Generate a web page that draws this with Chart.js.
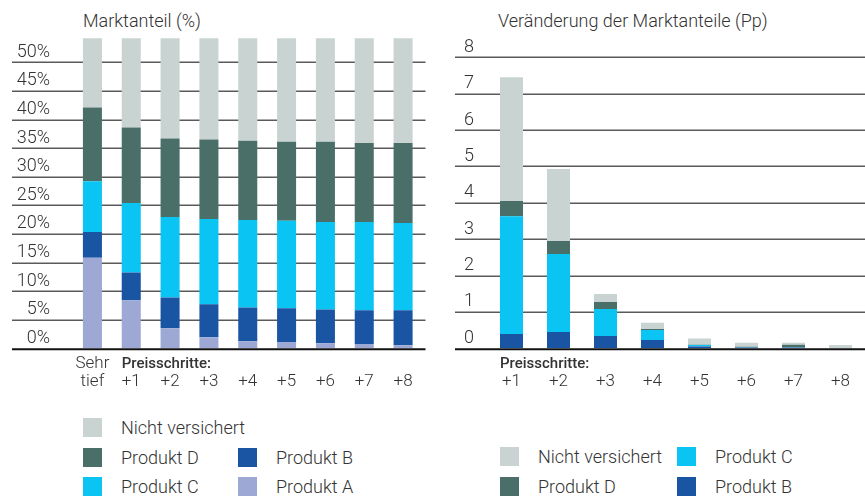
<!DOCTYPE html>
<html>
<head>
<meta charset="utf-8">
<script src="https://cdn.jsdelivr.net/npm/chart.js@4/dist/chart.umd.min.js"></script>
<style>
  body { margin: 0; background: #fff; width: 865px; height: 498px; position: relative; overflow: hidden;
         font-family: Roboto, "Liberation Sans", sans-serif; color: #333; }
  canvas { position: absolute; top: 0; }
  #left { left: 0; }
  #right { left: 440px; }
  .title { position: absolute; top: 11px; font-size: 18px; line-height: 20px; font-weight: 300; }
  .leg { position: absolute; font-size: 18px; line-height: 19px; font-weight: 300; white-space: nowrap; }
  .leg i { position: absolute; left: 0; top: 0; width: 19px; height: 19px; }
  .leg span { position: absolute; left: 38px; top: 0; }
</style>
</head>
<body>
<div class="title" style="left:83px">Marktanteil (%)</div>
<div class="title" style="left:498px">Veränderung der Marktanteile (Pp)</div>
<canvas id="left" width="440" height="400"></canvas>
<canvas id="right" width="425" height="400"></canvas>
<div id="legends"></div>
<script>
const FONT = 'Roboto, "Liberation Sans", sans-serif'
const TEXT = '#333'

// series names and colours
const NAMES = { n: 'Nicht versichert', d: 'Produkt D', c: 'Produkt C', b: 'Produkt B', a: 'Produkt A' }
const COLORS = { n: '#c9d4d2', d: '#4a6f68', c: '#0ac4f3', b: '#1a55a4', a: '#9da8d5' }

// left chart: market share (%)
const leftLabels = [['Sehr', 'tief'], ['', '+1'], ['', '+2'], ['', '+3'], ['', '+4'], ['', '+5'], ['', '+6'], ['', '+7'], ['', '+8']]
const leftTicks = [0, 5, 10, 15, 20, 25, 30, 35, 40, 45, 50]
const shareA = [15.85, 8.4, 3.5, 1.95, 1.25, 1.1, 0.9, 0.75, 0.55]
const shareB = [4.5, 4.85, 5.4, 5.75, 5.9, 5.9, 5.9, 5.9, 6.1]
const shareC = [8.85, 12.15, 14.05, 14.9, 15.3, 15.3, 15.3, 15.45, 15.25]
const shareD = [12.9, 13.2, 13.75, 13.9, 13.85, 13.8, 14.0, 13.8, 14.0]
const shareN = [12.1, 15.6, 17.5, 17.7, 17.9, 18.1, 18.1, 18.3, 18.3]

// right chart: change of market shares (Pp)
const rightLabels = [['', '+1'], ['', '+2'], ['', '+3'], ['', '+4'], ['', '+5'], ['', '+6'], ['', '+7'], ['', '+8']]
const rightTicks = [0, 1, 2, 3, 4, 5, 6, 7, 8]
const deltaB = [0.39, 0.45, 0.34, 0.23, 0.05, 0.02, 0.02, 0.01]
const deltaC = [3.24, 2.14, 0.74, 0.27, 0.04, 0.01, 0.01, 0]
const deltaD = [0.42, 0.36, 0.19, 0.03, 0.01, 0.01, 0.07, 0]
const deltaN = [3.40, 1.98, 0.22, 0.17, 0.17, 0.11, 0.05, 0.08]

const STEP_CAPTION = 'Preisschritte:'

// horizontal grid lines that run under the tick labels, plus a black baseline
const gridPlugin = {
  id: 'gridLines',
  beforeDatasetsDraw(chart, args, opts) {
    const { ctx, chartArea, scales: { y } } = chart
    ctx.save()
    ctx.strokeStyle = '#5a5a5a'
    ctx.lineWidth = 1.5
    y.ticks.forEach(t => {
      if (t.value === 0) return
      const py = Math.round(y.getPixelForValue(t.value)) + 0.25
      ctx.beginPath()
      ctx.moveTo(y.left, py)
      ctx.lineTo(chartArea.right + opts.extend, py)
      ctx.stroke()
    })
    ctx.restore()
  },
  afterDatasetsDraw(chart, args, opts) {
    const { ctx, chartArea, scales: { y } } = chart
    const py = y.getPixelForValue(0) + 1
    ctx.save()
    ctx.strokeStyle = '#111'
    ctx.lineWidth = 2
    ctx.beginPath()
    ctx.moveTo(y.left, py)
    ctx.lineTo(chartArea.right + opts.extend, py)
    ctx.stroke()
    ctx.restore()
  }
}

// "Preisschritte:" caption, left aligned to the first price-step bar
const captionPlugin = {
  id: 'caption',
  afterDraw(chart, args, opts) {
    const { ctx, chartArea } = chart
    const bar = chart.getDatasetMeta(0).data[opts.index]
    ctx.save()
    ctx.font = '500 15px ' + FONT
    ctx.fillStyle = TEXT
    ctx.textBaseline = 'middle'
    ctx.textAlign = 'left'
    ctx.fillText(STEP_CAPTION, bar.x - bar.width / 2, chartArea.bottom + 16)
    ctx.restore()
  }
}

function dataset(key, values) {
  return {
    label: NAMES[key],
    data: values,
    backgroundColor: COLORS[key],
    borderWidth: 0,
    barPercentage: 0.49,
    categoryPercentage: 1
  }
}

function makeChart(el, cfg) {
  return new Chart(document.getElementById(el), {
    type: 'bar',
    data: { labels: cfg.labels, datasets: cfg.datasets },
    options: {
      responsive: false,
      animation: false,
      events: [],
      layout: { padding: cfg.padding },
      plugins: {
        legend: { display: false },
        tooltip: { enabled: false },
        gridLines: { extend: cfg.extend },
        caption: { index: cfg.captionIndex }
      },
      scales: {
        x: {
          stacked: true,
          grid: { display: false, drawTicks: false },
          border: { display: false },
          ticks: {
            color: TEXT, padding: 7, maxRotation: 0, autoSkip: false,
            font: { family: FONT, size: 17, weight: 300, lineHeight: 1.05 }
          },
          afterFit(s) { s.height = 51.7 }
        },
        y: {
          stacked: true,
          min: 0,
          max: cfg.max,
          grid: { display: false, drawTicks: false },
          border: { display: false },
          afterBuildTicks(s) { s.ticks = cfg.ticks.map(v => ({ value: v })) },
          afterFit(s) { s.width = cfg.axisWidth },
          ticks: {
            color: TEXT, padding: cfg.tickPad, labelOffset: -10,
            font: { family: FONT, size: 18, weight: 300 },
            callback: cfg.tickFmt
          }
        }
      }
    },
    plugins: [gridPlugin, captionPlugin]
  })
}

makeChart('left', {
  labels: leftLabels,
  datasets: [dataset('a', shareA), dataset('b', shareB), dataset('c', shareC), dataset('d', shareD), dataset('n', shareN)],
  padding: { left: 12, right: 17.5, top: 31.5, bottom: 0 },
  extend: 3,
  max: 55,
  ticks: leftTicks,
  axisWidth: 61,
  tickPad: 23,
  tickFmt: v => v + '%',
  captionIndex: 1
})

makeChart('right', {
  labels: rightLabels,
  datasets: [dataset('b', deltaB), dataset('c', deltaC), dataset('d', deltaD), dataset('n', deltaN)],
  padding: { left: 15, right: 1, top: 57.3, bottom: 0 },
  extend: 1,
  max: 8,
  ticks: rightTicks,
  axisWidth: 33,
  tickPad: 14,
  tickFmt: v => String(v),
  captionIndex: 0
})

// legends as html
const legendItems = [
  { key: 'n', x: 83, y: 418 }, { key: 'd', x: 83, y: 448 }, { key: 'c', x: 83, y: 477 },
  { key: 'b', x: 238, y: 448 }, { key: 'a', x: 238, y: 477 },
  { key: 'n', x: 500, y: 447 }, { key: 'd', x: 500, y: 477 },
  { key: 'c', x: 677, y: 447 }, { key: 'b', x: 677, y: 477 }
]
const legendRoot = document.getElementById('legends')
legendItems.forEach(it => {
  const d = document.createElement('div')
  d.className = 'leg'
  d.style.left = it.x + 'px'
  d.style.top = it.y + 'px'
  d.innerHTML = '<i style="background:' + COLORS[it.key] + '"></i><span>' + NAMES[it.key] + '</span>'
  legendRoot.appendChild(d)
})
</script>
</body>
</html>
